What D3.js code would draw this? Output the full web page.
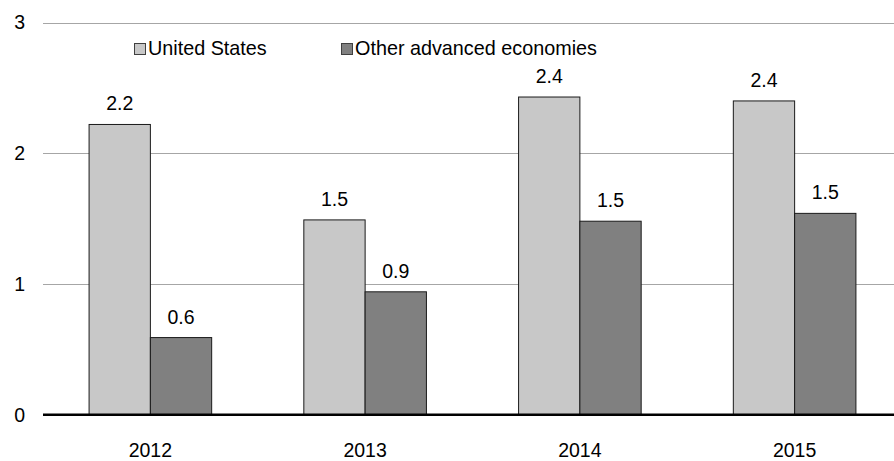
<!DOCTYPE html>
<html>
<head>
<meta charset="utf-8">
<script src="https://cdn.jsdelivr.net/npm/d3@7"></script>
<style>
  html, body { margin: 0; padding: 0; background: #fff; }
  svg { display: block; font-family: "Liberation Sans", Arial, sans-serif; }
</style>
</head>
<body>
<svg id="chart" width="894" height="461"></svg>
<script>
const categories = ["2012", "2013", "2014", "2015"];
const seriesNames = ["United States", "Other advanced economies"];
const usValues = [2.22, 1.49, 2.43, 2.40];
const otherValues = [0.59, 0.94, 1.48, 1.54];
const valueLabels = [["2.2", "1.5", "2.4", "2.4"], ["0.6", "0.9", "1.5", "1.5"]];
const yTicks = [0, 1, 2, 3];

const colors = ["#c8c8c8", "#808080"];
const seriesValues = [usValues, otherValues];
const FS = 19.5;

const svg = d3.select("#chart");

const x = d3.scaleBand().domain(categories).range([43, 902]).paddingInner(0).paddingOuter(0);
const y = d3.scaleLinear().domain([0, 3]).range([414.7, 22.5]);
const barW = 61.3;
const x1 = d3.scaleBand().domain(seriesNames)
  .range([x.bandwidth() / 2 - barW, x.bandwidth() / 2 + barW]).padding(0);

// gridlines
svg.append("g").selectAll("line").data(yTicks.filter(d => d > 0)).join("line")
  .attr("x1", 43).attr("x2", 894)
  .attr("y1", d => Math.round(y(d)) + 0.5).attr("y2", d => Math.round(y(d)) + 0.5)
  .attr("stroke", "#a6a6a6").attr("stroke-width", 1.2);

// y tick labels
svg.append("g").selectAll("text").data(yTicks).join("text")
  .attr("x", 25).attr("y", d => y(d))
  .attr("text-anchor", "end").attr("dy", "0.35em")
  .attr("font-size", FS).attr("fill", "#000")
  .text(d => d);

// bars
const groups = svg.append("g").selectAll("g").data(categories).join("g")
  .attr("transform", d => `translate(${x(d)},0)`);

const cellData = (d, i) => seriesNames.map((s, j) => ({ s, j, v: seriesValues[j][i], label: valueLabels[j][i] }));

groups.selectAll("rect").data(cellData).join("rect")
  .attr("x", d => x1(d.s))
  .attr("width", x1.bandwidth())
  .attr("y", d => y(d.v))
  .attr("height", d => y(0) - y(d.v))
  .attr("fill", d => colors[d.j])
  .attr("stroke", "#1a1a1a").attr("stroke-width", 1);

groups.selectAll("text").data(cellData).join("text")
  .attr("x", d => x1(d.s) + x1.bandwidth() / 2)
  .attr("y", d => y(d.v) - 14)
  .attr("text-anchor", "middle")
  .attr("font-size", FS).attr("fill", "#000")
  .text(d => d.label);

// zero axis
svg.append("line")
  .attr("x1", 43).attr("x2", 894)
  .attr("y1", y(0)).attr("y2", y(0))
  .attr("stroke", "#000").attr("stroke-width", 2.5);

// x labels
svg.append("g").selectAll("text").data(categories).join("text")
  .attr("x", d => x(d) + x.bandwidth() / 2).attr("y", 457)
  .attr("text-anchor", "middle")
  .attr("font-size", FS).attr("fill", "#000")
  .text(d => d);

// legend
const legendX = [134, 341];
const lg = svg.append("g").selectAll("g").data(seriesNames).join("g")
  .attr("transform", (d, i) => `translate(${legendX[i]},43)`);
lg.append("rect").attr("x", 0.5).attr("y", 0.5).attr("width", 11).attr("height", 11)
  .attr("fill", (d, i) => colors[i]).attr("stroke", "#404040").attr("stroke-width", 1);
lg.append("text")
  .attr("x", 14).attr("y", 12)
  .attr("font-size", 19.8).attr("fill", "#000")
  .text(d => d);
</script>
</body>
</html>
